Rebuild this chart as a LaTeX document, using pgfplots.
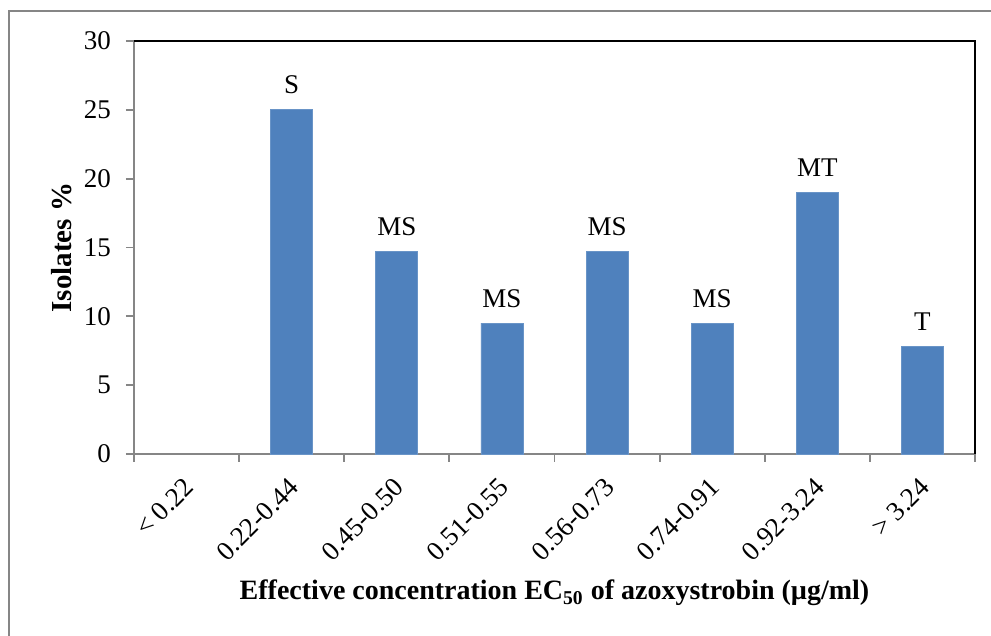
\documentclass[border=0pt]{standalone}
\usepackage{fontspec}
\setmainfont{Liberation Serif}
\usepackage{pgfplots}
\pgfplotsset{compat=1.18}
\definecolor{barblue}{HTML}{4F81BD}
\definecolor{axgray}{HTML}{868686}
\begin{document}
\begin{tikzpicture}
\path[use as bounding box] (-67pt,-91pt) rectangle (428.5pt,227pt);
\draw[axgray, line width=0.8pt] (-62.5pt,-100pt) -- (-62.5pt,221.5pt) -- (440pt,221.5pt);
\begin{axis}[
  scale only axis, width=420.5pt, height=206.5pt,
  xmin=-0.5, xmax=7.5, ymin=0, ymax=30,
  axis line style={axgray, line width=0.9pt},
  ytick={0,5,...,30},
  yticklabel={\textrm{\pgfmathprintnumber[assume math mode=true]{\tick}}},
  xtick={0,...,7},
  xticklabels={\textrm{< 0.22},\textrm{0.22-0.44},\textrm{0.45-0.50},\textrm{0.51-0.55},\textrm{0.56-0.73},\textrm{0.74-0.91},\textrm{0.92-3.24},\textrm{> 3.24}},
  minor xtick={-0.5,0.5,...,7.5},
  xtick pos=bottom, ytick pos=left,
  tick align=outside,
  major tick length=4pt, minor tick length=4pt,
  major x tick style={draw=none},
  minor x tick style={axgray, line width=0.9pt},
  major y tick style={axgray, line width=0.9pt},
  /pgf/number format/assume math mode=true,
  tick label style={font=\fontsize{13.5}{16}\selectfont},
  xticklabel style={rotate=45, anchor=east, yshift=-8.2pt, xshift=-3pt},
  yticklabel style={xshift=-4pt},
  ylabel={\textbf{Isolates \%}},
  ylabel style={font=\fontsize{14.5}{17}\selectfont, at={(axis description cs:0,0.5)}, rotate=0, anchor=center, yshift=36pt},
  xlabel={\textbf{Effective concentration EC\textsubscript{50} of azoxystrobin (µg/ml)}},
  xlabel style={font=\fontsize{14}{17}\selectfont, at={(axis description cs:0.5,0)}, yshift=-69.5pt, anchor=center},
  ybar, bar width=21pt,
  point meta=explicit symbolic,
  nodes near coords,
  nodes near coords style={font=\fontsize{13.5}{16}\selectfont, anchor=center, yshift=12.5pt},
  clip=false,
]
\addplot[fill=barblue, draw=barblue!85!white] coordinates {
  (1,25) [S]
  (2,14.7) [MS]
  (3,9.5) [MS]
  (4,14.7) [MS]
  (5,9.5) [MS]
  (6,19) [MT]
  (7,7.8) [T]
};
\draw[black, line width=0.9pt] (rel axis cs:0,1) -- (rel axis cs:1,1) -- (rel axis cs:1,0);
\end{axis}
\end{tikzpicture}
\end{document}
